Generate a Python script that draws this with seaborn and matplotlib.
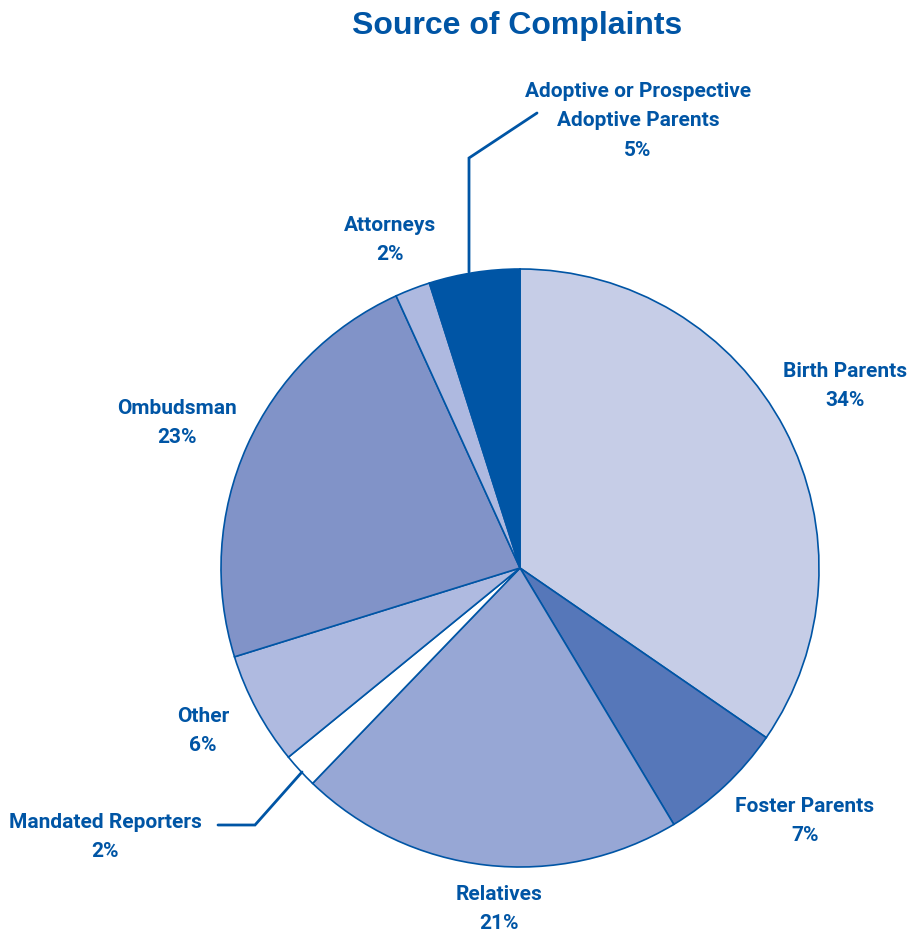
import matplotlib
matplotlib.use("Agg")
import matplotlib.pyplot as plt
import seaborn as sns

sns.set_theme(style="white")
plt.rcParams['font.family'] = ['Roboto', 'DejaVu Sans']

categories = ["Birth Parents", "Foster Parents", "Relatives", "Mandated Reporters",
              "Other", "Ombudsman", "Attorneys", "Adoptive or Prospective\nAdoptive Parents"]
# wedge shares
shares = [34.6, 6.8, 20.8, 1.9, 6.1, 23.0, 1.9, 4.9]
# percentages printed in the labels
label_pct = [34, 7, 21, 2, 6, 23, 2, 5]
colors = ["#C6CDE7", "#5677B9", "#97A7D5", "#FFFFFF", "#AFBAE0", "#8193C8", "#AEB9E0", "#0055A5"]
blue = "#0055A5"

W, H = 909, 934
fig = plt.figure(figsize=(W / 100, H / 100), dpi=100)
ax = fig.add_axes([0, 0, 1, 1])

cx, cy, r = 520, H - 568, 299
ax.pie(shares, colors=colors, startangle=90, counterclock=False,
       center=(cx, cy), radius=r, frame=True, normalize=True,
       wedgeprops=dict(edgecolor=blue, linewidth=1.2))
ax.set_xlim(0, W)
ax.set_ylim(0, H)
ax.set_aspect('equal')
ax.axis('off')

def y(p):
    return H - p

ax.text(517, y(26), "Source of Complaints", ha='center', va='center',
        fontsize=23, fontweight='bold', color=blue,
        family=['Liberation Sans', 'DejaVu Sans'])

label_pos = {
    "Birth Parents": (845, 386),
    "Foster Parents": (805, 821),
    "Relatives": (499, 909),
    "Mandated Reporters": (105, 837),
    "Other": (203, 731),
    "Ombudsman": (177, 423),
    "Attorneys": (390, 240),
    "Adoptive or Prospective\nAdoptive Parents": (638, 121),
}
for cat, v in zip(categories, label_pct):
    px, py = label_pos[cat]
    ax.text(px, y(py), f"{cat}\n{v}%", ha='center', va='center', fontsize=15,
            fontweight='bold', color=blue, linespacing=1.72)

# leader lines
ax.plot([469, 469, 537], [y(272), y(158), y(113)], color=blue, lw=2, solid_joinstyle='miter')
ax.plot([302, 255, 218], [y(772), y(825), y(825)], color=blue, lw=2, solid_joinstyle='miter')

fig.savefig("out.png", dpi=100)
